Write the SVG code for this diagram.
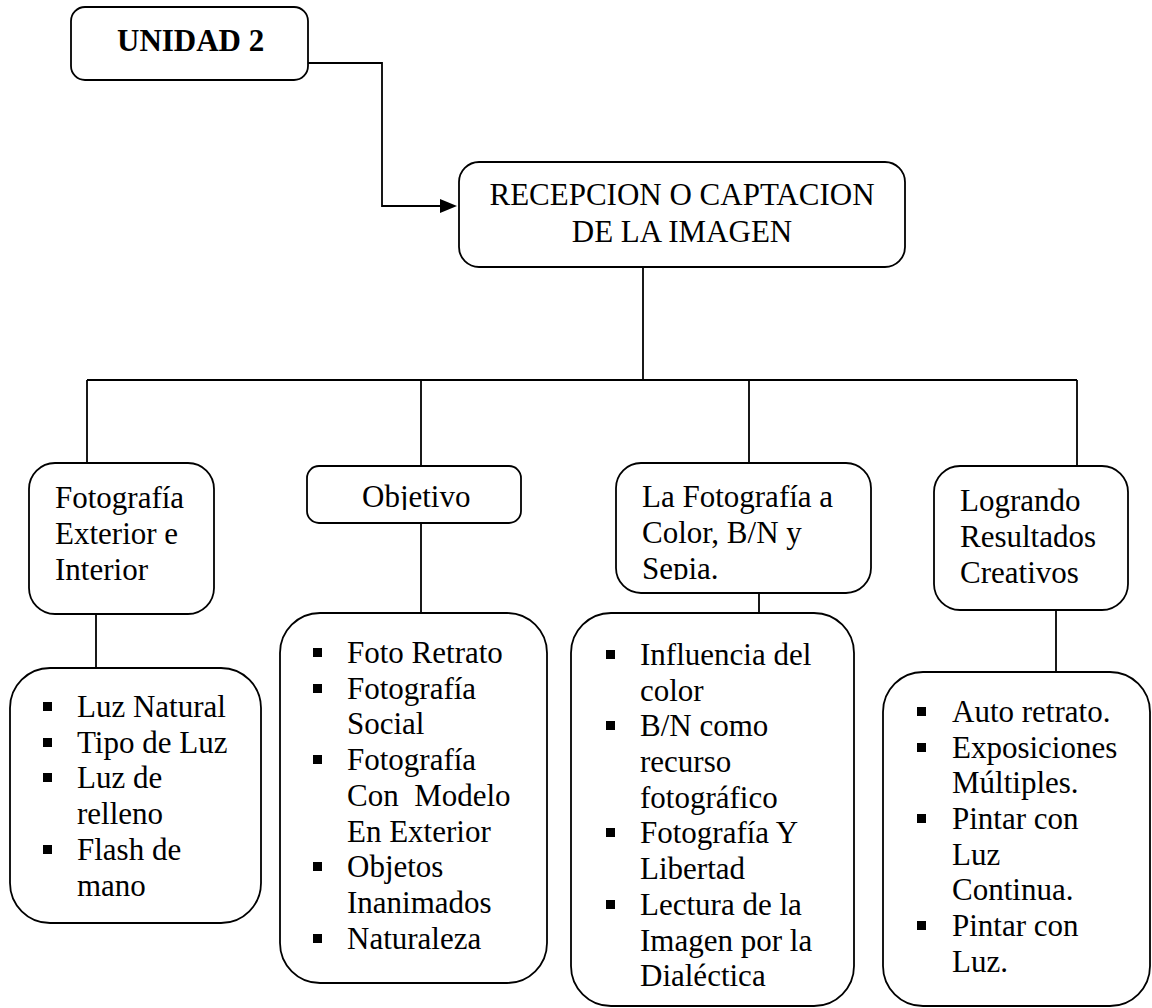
<svg xmlns="http://www.w3.org/2000/svg" xmlns:xlink="http://www.w3.org/1999/xlink" width="1152" height="1008" viewBox="0 0 1152 1008">
<style>
.box{fill:#fff;stroke:#000;stroke-width:1.8}
.ln{fill:none;stroke:#000;stroke-width:1.8}
text{font-family:"Liberation Serif","Times New Roman",serif;font-size:31px;fill:#000}
.b{font-weight:bold}
.pre{white-space:pre}
</style>
<defs>
<rect id="bul" width="9" height="9" fill="#000"/>
<clipPath id="clipObj"><rect x="300" y="460" width="230" height="50"/></clipPath>
<clipPath id="clipSep"><rect x="610" y="460" width="270" height="120"/></clipPath>
</defs>

<g id="connectors">
<path class="ln" d="M308,63 H382 V206 H443"/>
<path d="M440,199 L457,206 L440,213 Z" fill="#000"/>
<path class="ln" d="M643,267 V380"/>
<path class="ln" d="M87,380 H1077"/>
<path class="ln" d="M87,380 V463"/>
<path class="ln" d="M421,380 V466"/>
<path class="ln" d="M749,380 V463"/>
<path class="ln" d="M1077,380 V466"/>
<path class="ln" d="M96,614 V668"/>
<path class="ln" d="M421,521 V613"/>
<path class="ln" d="M759,591 V613"/>
<path class="ln" d="M1056,610 V672"/>
</g>

<g id="unidad">
<rect class="box" x="71" y="7" width="237" height="73" rx="14"/>
<text class="b" x="117" y="51">UNIDAD 2</text>
</g>

<g id="recepcion">
<rect class="box" x="459" y="162" width="446" height="105" rx="20"/>
<text x="682" y="205" text-anchor="middle">RECEPCION O CAPTACION</text>
<text x="682" y="242" text-anchor="middle">DE LA IMAGEN</text>
</g>

<g id="foto-exterior">
<rect class="box" x="29" y="463" width="185" height="151" rx="26"/>
<text x="55" y="508">Fotografía</text>
<text x="55" y="544">Exterior e</text>
<text x="55" y="580">Interior</text>
</g>

<g id="objetivo">
<rect class="box" x="307" y="466" width="214" height="57" rx="12"/>
<text x="362" y="507" clip-path="url(#clipObj)">Objetivo</text>
</g>

<g id="foto-color">
<rect class="box" x="616" y="463" width="255" height="130" rx="25"/>
<text x="642" y="507">La Fotografía a</text>
<text x="642" y="543">Color, B/N y</text>
<text x="642" y="579" clip-path="url(#clipSep)">Sepia.</text>
</g>

<g id="logrando">
<rect class="box" x="934" y="466" width="194" height="144" rx="26"/>
<text x="960" y="511">Logrando</text>
<text x="960" y="547">Resultados</text>
<text x="960" y="583">Creativos</text>
</g>

<g id="lista-luz">
<rect class="box" x="10" y="668" width="251" height="255" rx="40"/>
<use href="#bul" x="43" y="702"/>
<text x="77" y="717">Luz Natural</text>
<use href="#bul" x="43" y="738"/>
<text x="77" y="753">Tipo de Luz</text>
<use href="#bul" x="43" y="773"/>
<text x="77" y="788">Luz de</text>
<text x="77" y="824">relleno</text>
<use href="#bul" x="43" y="845"/>
<text x="77" y="860">Flash de</text>
<text x="77" y="896">mano</text>
</g>

<g id="lista-objetivo">
<rect class="box" x="280" y="613" width="267" height="370" rx="40"/>
<use href="#bul" x="313" y="648"/>
<text x="347" y="663">Foto Retrato</text>
<use href="#bul" x="313" y="684"/>
<text x="347" y="699">Fotografía</text>
<text x="347" y="734">Social</text>
<use href="#bul" x="313" y="755"/>
<text x="347" y="770">Fotografía</text>
<text class="pre" x="347" y="806">Con  Modelo</text>
<text x="347" y="842">En Exterior</text>
<use href="#bul" x="313" y="862"/>
<text x="347" y="877">Objetos</text>
<text x="347" y="913">Inanimados</text>
<use href="#bul" x="313" y="934"/>
<text x="347" y="949">Naturaleza</text>
</g>

<g id="lista-color">
<rect class="box" x="571" y="613" width="283" height="393" rx="40"/>
<use href="#bul" x="606" y="650"/>
<text x="640" y="665">Influencia del</text>
<text x="640" y="701">color</text>
<use href="#bul" x="606" y="721"/>
<text x="640" y="736">B/N como</text>
<text x="640" y="772">recurso</text>
<text x="640" y="808">fotográfico</text>
<use href="#bul" x="606" y="828"/>
<text x="640" y="843">Fotografía Y</text>
<text x="640" y="879">Libertad</text>
<use href="#bul" x="606" y="900"/>
<text x="640" y="915">Lectura de la</text>
<text x="640" y="951">Imagen por la</text>
<text x="640" y="986">Dialéctica</text>
</g>

<g id="lista-creativos">
<rect class="box" x="883" y="672" width="267" height="334" rx="40"/>
<use href="#bul" x="917" y="707"/>
<text x="952" y="722">Auto retrato.</text>
<use href="#bul" x="917" y="743"/>
<text x="952" y="758">Exposiciones</text>
<text x="952" y="793">Múltiples.</text>
<use href="#bul" x="917" y="814"/>
<text x="952" y="829">Pintar con</text>
<text x="952" y="865">Luz</text>
<text x="952" y="900">Continua.</text>
<use href="#bul" x="917" y="921"/>
<text x="952" y="936">Pintar con</text>
<text x="952" y="972">Luz.</text>
</g>
</svg>
